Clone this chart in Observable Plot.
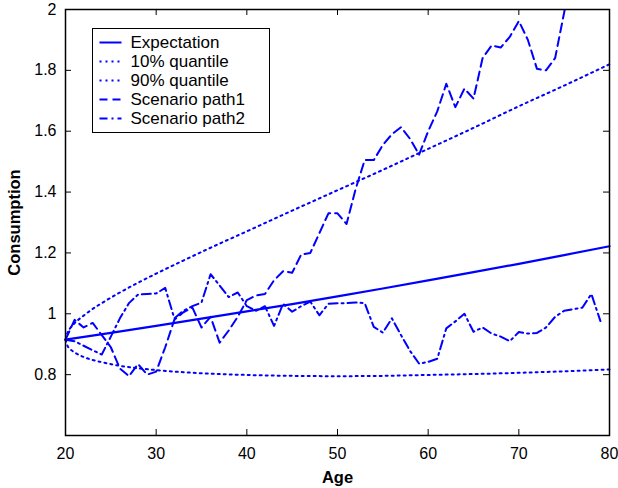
<!DOCTYPE html>
<html>
<head>
<meta charset="utf-8">
<script src="https://cdn.jsdelivr.net/npm/d3@7"></script>
<script src="https://cdn.jsdelivr.net/npm/@observablehq/plot@0.6"></script>
<style>
  html, body { margin: 0; padding: 0; background: white; }
  #chart svg [aria-label="x-axis label"] text,
  #chart svg [aria-label="y-axis label"] text { font-weight: bold; font-size: 16.5px; }
</style>
</head>
<body>
<div id="chart"></div>
<script>
// ---- data ----
const pathAges1 = [20,21,22,23,24,25,26,27,28,29,30,31,32,33,34,35,36,37,38,39,40,41,42,43,44,45,46,47,48,49,50,51,52,53,54,55,56,57,58,59,60,61,62,63,64,65,66,67,68,69,70,71,72,73,74,75,76];
const path1 = [0.915,0.98,0.955,0.97,0.93,0.89,0.82,0.795,0.835,0.80,0.81,0.89,0.98,1.005,1.02,0.955,0.99,0.905,0.945,0.99,1.045,1.06,1.065,1.11,1.14,1.135,1.195,1.20,1.265,1.33,1.33,1.295,1.41,1.505,1.505,1.555,1.59,1.613,1.575,1.523,1.60,1.665,1.756,1.679,1.74,1.707,1.84,1.882,1.875,1.91,1.962,1.90,1.805,1.80,1.84,1.99,2.15];

const pathAges2 = [20,21,22,23,24,25,26,27,28,29,30,31,32,33,34,35,36,37,38,39,40,41,42,43,44,45,46,47,48,49,50,51,52,53,54,55,56,57,58,59,60,61,62,63,64,65,66,67,68,69,70,71,72,73,74,75,76,77,78,79];
const path2 = [0.915,0.91,0.895,0.88,0.866,0.925,0.985,1.035,1.063,1.065,1.067,1.085,0.985,1.01,1.025,1.037,1.13,1.093,1.055,1.07,1.025,1.01,1.025,0.96,1.033,1.007,1.025,1.04,0.995,1.033,1.035,1.035,1.037,1.035,0.957,0.938,0.985,0.93,0.878,0.836,0.842,0.852,0.952,0.975,1.0,0.941,0.955,0.935,0.925,0.91,0.94,0.935,0.937,0.955,0.99,1.01,1.015,1.02,1.065,0.976];

const expAges = [20,25,30,35,40,45,50,55,60,65,70,75,80];
const expectation = [0.915,0.937,0.960,0.984,1.008,1.032,1.057,1.083,1.110,1.137,1.164,1.193,1.222];

const quantAges = [20,20.25,20.5,21,22,23,24,26,28,30,33,36,40,45,50,55,60,65,70,75,80];
const q90 = [0.915,0.940,0.952,0.969,0.994,1.016,1.035,1.070,1.102,1.132,1.175,1.217,1.271,1.339,1.406,1.473,1.542,1.611,1.682,1.750,1.820];
const q10 = [0.915,0.893,0.884,0.873,0.858,0.848,0.841,0.829,0.821,0.815,0.808,0.803,0.799,0.796,0.795,0.796,0.799,0.802,0.806,0.811,0.817];

const xTicks = [20,30,40,50,60,70,80];
const yTicks = [0.8,1,1.2,1.4,1.6,1.8,2];

const legendNames = ["Expectation","10% quantile","90% quantile","Scenario path1","Scenario path2"];

// ---- build ----
const W = 618, H = 488;
const mL = 65, mR = 9, mT = 9, mB = 53;
const frameW = W - mL - mR, frameH = H - mT - mB;
const tickLen = 6;
const blue = "#0000ff";
const dashSolid = null, dashDot = "2,4", dashDash = "9,5", dashDashDot = "9,4,2,4";
const legendDashes = [dashSolid, dashDot, dashDot, "8,5", "8,4,2,4"];
const fontFam = "'Liberation Sans', Arial, Helvetica, sans-serif";

const toRows = (xs, ys) => xs.map((a, i) => ({age: a, v: ys[i]}));

const chart = Plot.plot({
  width: W,
  height: H,
  marginLeft: mL,
  marginRight: mR,
  marginTop: mT,
  marginBottom: mB,
  x: {domain: [20, 80]},
  y: {domain: [0.6, 2]},
  style: {fontFamily: fontFam, fontSize: "16px", color: "black", background: "white"},
  marks: [
    Plot.line(toRows(quantAges, q90), {x: "age", y: "v", stroke: blue, strokeWidth: 2, strokeDasharray: dashDot, curve: "monotone-x"}),
    Plot.line(toRows(quantAges, q10), {x: "age", y: "v", stroke: blue, strokeWidth: 2, strokeDasharray: dashDot, curve: "monotone-x"}),
    Plot.line(toRows(expAges, expectation), {x: "age", y: "v", stroke: blue, strokeWidth: 2.2}),
    Plot.line(toRows(pathAges1, path1), {x: "age", y: "v", stroke: blue, strokeWidth: 2, strokeDasharray: dashDash, clip: true}),
    Plot.line(toRows(pathAges2, path2), {x: "age", y: "v", stroke: blue, strokeWidth: 2, strokeDasharray: dashDashDot}),
    // inward tick marks on all four sides
    Plot.tickX(xTicks, {x: d => d, stroke: "black", strokeWidth: 1, insetTop: frameH - tickLen}),
    Plot.tickX(xTicks, {x: d => d, stroke: "black", strokeWidth: 1, insetBottom: frameH - tickLen}),
    Plot.tickY(yTicks, {y: d => d, stroke: "black", strokeWidth: 1, insetRight: frameW - tickLen}),
    Plot.tickY(yTicks, {y: d => d, stroke: "black", strokeWidth: 1, insetLeft: frameW - tickLen}),
    Plot.axisX(xTicks, {anchor: "bottom", tickSize: 0, tickPadding: 12, tickFormat: d => String(d), label: "Age", labelAnchor: "center", labelArrow: "none", labelOffset: 47}),
    Plot.axisY(yTicks, {anchor: "left", tickSize: 0, tickPadding: 9, tickFormat: d => String(d), label: "Consumption", labelAnchor: "center", labelArrow: "none", labelOffset: 57}),
    Plot.frame({stroke: "black", strokeWidth: 1.5})
  ]
});

document.getElementById("chart").appendChild(chart);

// ---- legend (inside the plot, top-left) ----
const svg = d3.select(chart);
const lg = svg.append("g")
  .attr("font-family", fontFam)
  .attr("font-size", 17)
  .attr("text-anchor", "start");
lg.append("rect")
  .attr("x", 92.5).attr("y", 28.5).attr("width", 177).attr("height", 104)
  .attr("fill", "white").attr("stroke", "black").attr("stroke-width", 1);
legendNames.forEach((name, i) => {
  const cy = 42.5 + i * 19;
  lg.append("line")
    .attr("x1", 99.5).attr("x2", 121.5).attr("y1", cy).attr("y2", cy)
    .attr("stroke", blue).attr("stroke-width", 2)
    .attr("stroke-dasharray", legendDashes[i]);
  lg.append("text")
    .attr("x", 130.5).attr("y", cy).attr("dy", "0.35em")
    .attr("text-anchor", "start")
    .attr("fill", "black")
    .text(name);
});
</script>
</body>
</html>
